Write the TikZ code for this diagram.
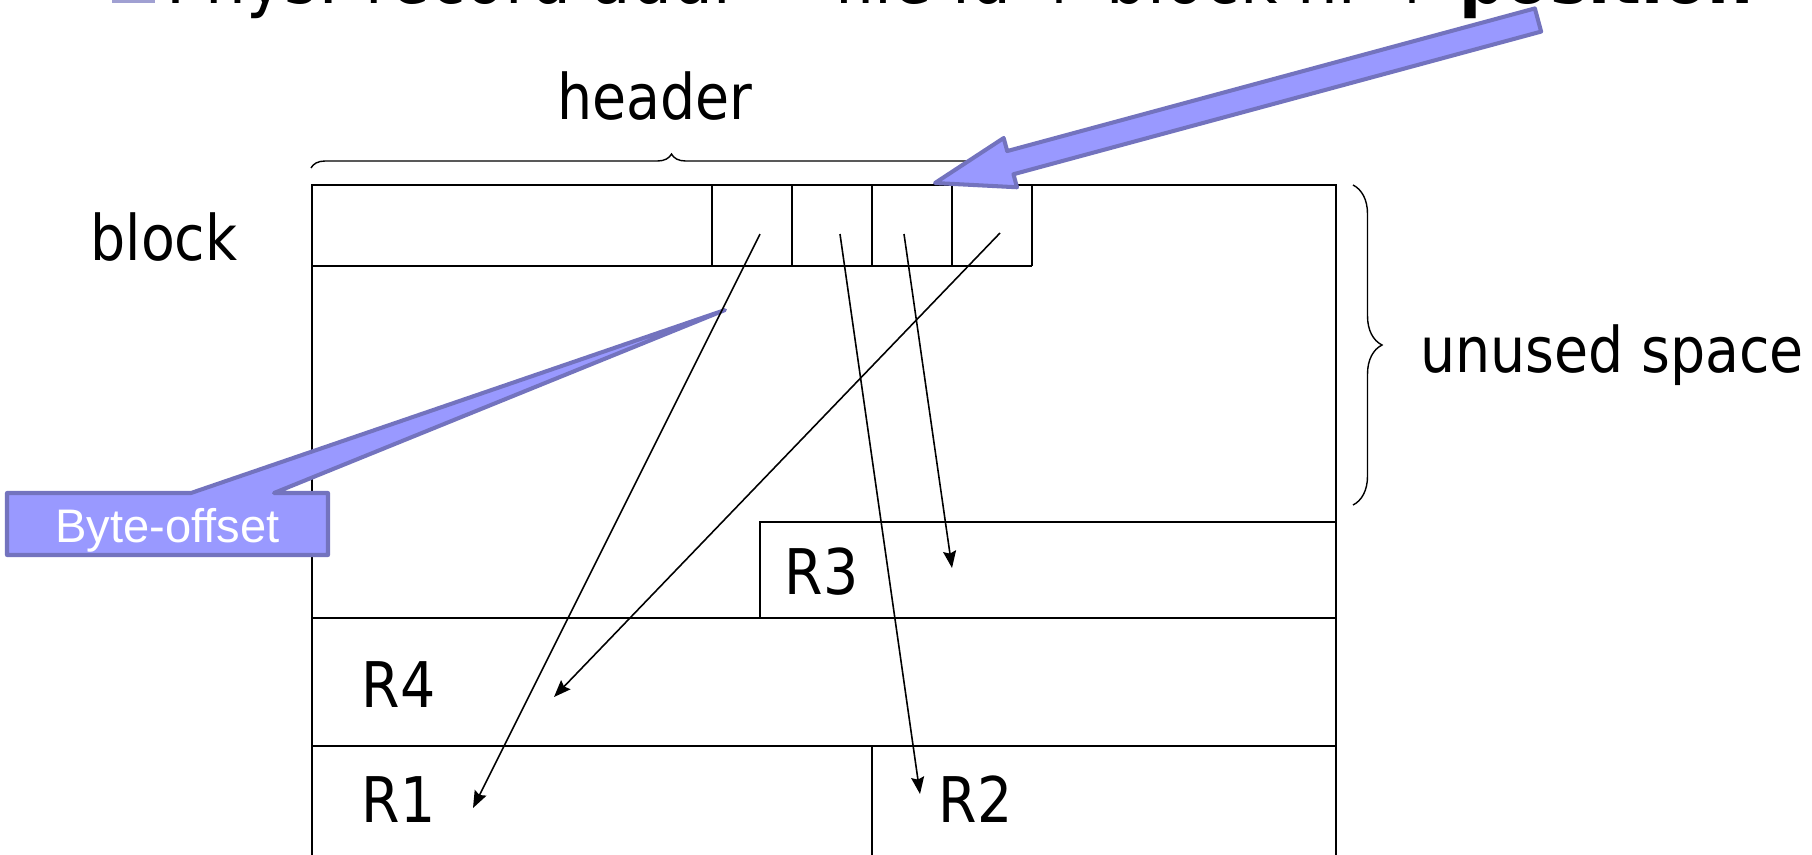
\documentclass[tikz,border=0pt]{standalone}
\usepackage{fontspec}
\usepackage{tikz}
\usetikzlibrary{arrows.meta, calc, decorations.pathreplacing}
\newfontfamily\slidefont{DejaVu Sans}[FakeStretch=0.88]
\newfontfamily\calloutfont{Liberation Sans}
\definecolor{fatfill}{RGB}{153,153,255}
\definecolor{fatline}{RGB}{115,115,190}
\definecolor{bulletgray}{RGB}{160,160,210}

\begin{document}
\begin{tikzpicture}[
    x=0.01cm, y=-0.01cm,
    line width=0.45pt,
    lbl/.style={font=\slidefont\fontsize{17.9pt}{20pt}\selectfont, inner sep=0pt},
    rec/.style={lbl, anchor=base west},
    ptr/.style={-{Stealth[length=1.7mm, width=1.3mm, inset=0.25mm]}},
    callout/.style={fill=fatfill, draw=fatline, line width=1.15pt, line join=round},
    brc/.style={decorate, decoration={brace, amplitude=#1}, line width=0.4pt}
  ]
  \useasboundingbox (0,0) rectangle (1812,854);

  % title line, cut by the top edge
  \fill[bulletgray] (112,-40) rectangle (155,3);
  \node[font=\slidefont\fontsize{20.8pt}{24pt}\selectfont, inner sep=0pt, anchor=base west] (title) at (166,3)
    {Phys. record addr = file id + block nr + \textbf{position}};

  \node[lbl, anchor=base] (header) at (655,119) {header};
  \node[lbl, anchor=base] (blk) at (164,260) {block};
  \node[lbl, anchor=base] (unused) at (1612,372) {unused space};

  % the block
  \draw (312,880) -- (312,185) -- (1336,185) -- (1336,880);
  \draw (312,266) -- (1032,266);
  \foreach \x in {712,792,872,952,1032}
    \draw (\x,185) -- (\x,266);
  \draw (760,618) -- (760,522) -- (1336,522);
  \draw (312,618) -- (1336,618);
  \draw (312,746) -- (1336,746);
  \draw (872,746) -- (872,880);

  \node[rec] (r3) at (784,594) {R3};
  \node[rec] (r4) at (361,707) {R4};
  \node[rec] (r1) at (361,822) {R1};
  \node[rec] (r2) at (938,822) {R2};

  \draw[brc=0.14cm] (311,168) -- (1032,168);
  \draw[brc=0.29cm] (1353,185) -- (1353,505);

  % callout
  \coordinate (offtip) at (725,310);
  \draw[callout] (7,493) -- (191,493) -- (offtip) -- (274,493) -- (328,493)
    -- (328,555) -- (7,555) -- cycle;
  \node[font=\calloutfont\fontsize{13.4pt}{16pt}\selectfont, text=white, inner sep=0pt, anchor=base] (boff) at (167.5,542) {Byte-offset};

  % slot pointers
  \coordinate (s1) at (760,234);  \coordinate (e1) at (473,808);
  \coordinate (s2) at (840,234);  \coordinate (e2) at (920,794);
  \coordinate (s3) at (904,234);  \coordinate (e3) at (952,568);
  \coordinate (s4) at (1000,233); \coordinate (e4) at (554,697);
  \foreach \i in {1,...,4}
    \draw[ptr] (s\i) -- (e\i);

  % fat arrow
  \coordinate (fattail) at (1538,20);
  \coordinate (fattip) at (935,183);
  \coordinate (fatbase) at ($(fattip)!0.78cm!(fattail)$);
  \draw[callout] (fattip)
    -- ($(fatbase)!0.255cm!90:(fattip)$)
    -- ($(fatbase)!0.12cm!90:(fattip)$)
    -- ($(fattail)!0.12cm!90:(fattip)$)
    -- ($(fattail)!0.12cm!-90:(fattip)$)
    -- ($(fatbase)!0.12cm!-90:(fattip)$)
    -- ($(fatbase)!0.255cm!-90:(fattip)$)
    -- cycle;
\end{tikzpicture}
\end{document}
